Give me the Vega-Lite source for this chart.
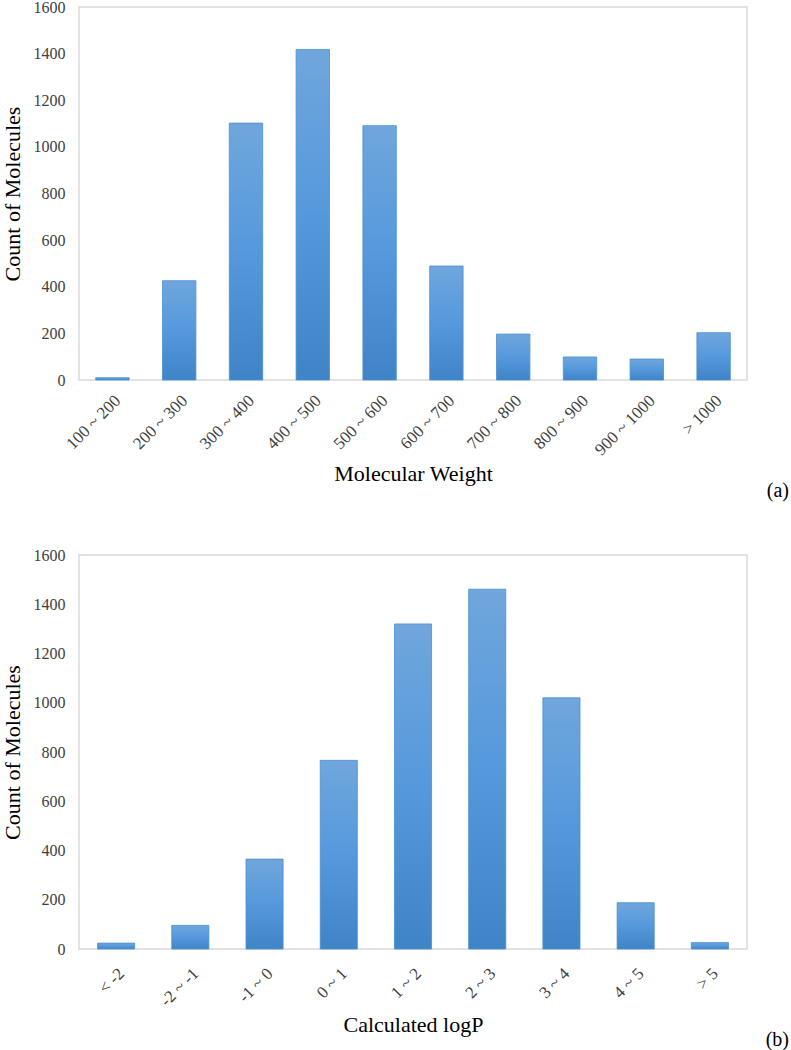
{
  "$schema": "https://vega.github.io/schema/vega-lite/v6.json",
  "padding": {"left": 0, "top": -2, "right": 0, "bottom": 0},
  "spacing": 44,
  "config": {
    "font": "Liberation Serif",
    "view": {"stroke": "#d9d9d9", "strokeWidth": 1.5},
    "axis": {"grid": false, "ticks": false, "domain": false, "labelFont": "Liberation Serif", "titleFont": "Liberation Serif", "labelColor": "#404040", "labelFontSize": 16, "titleFontSize": 22, "titleFontWeight": "normal", "titleColor": "#000000"},
    "title": {"font": "Liberation Serif", "fontSize": 20, "fontWeight": "normal", "color": "#000000"}
  },
  "datasets": {
    "mw": [
      {"range": "100 ~ 200", "count": 10},
      {"range": "200 ~ 300", "count": 426},
      {"range": "300 ~ 400", "count": 1102},
      {"range": "400 ~ 500", "count": 1418},
      {"range": "500 ~ 600", "count": 1091},
      {"range": "600 ~ 700", "count": 489},
      {"range": "700 ~ 800", "count": 197},
      {"range": "800 ~ 900", "count": 99},
      {"range": "900 ~ 1000", "count": 90},
      {"range": "> 1000", "count": 203}
    ],
    "logp": [
      {"range": "< -2", "count": 24},
      {"range": "-2 ~ -1", "count": 96},
      {"range": "-1 ~ 0", "count": 365},
      {"range": "0 ~ 1", "count": 766},
      {"range": "1 ~ 2", "count": 1320},
      {"range": "2 ~ 3", "count": 1461},
      {"range": "3 ~ 4", "count": 1020},
      {"range": "4 ~ 5", "count": 188},
      {"range": "> 5", "count": 26}
    ]
  },
  "vconcat": [
    {
      "width": 668,
      "height": 373,
      "data": {"name": "mw"},
      "title": {"text": "(a)", "orient": "bottom", "anchor": "end", "frame": "group", "dx": 42, "offset": -4},
      "mark": {
        "type": "bar",
        "stroke": "#4a8fd3",
        "strokeWidth": 0.8,
        "color": {"gradient": "linear", "x1": 0, "y1": 0, "x2": 0, "y2": 1, "stops": [{"offset": 0, "color": "#70a6dc"}, {"offset": 0.5, "color": "#5599dc"}, {"offset": 1, "color": "#3f84c6"}]}
      },
      "encoding": {
        "x": {"field": "range", "type": "nominal", "sort": null, "scale": {"paddingInner": 0.5, "paddingOuter": 0.25}, "axis": {"title": "Molecular Weight", "labelFont": "Liberation Serif", "titleFont": "Liberation Serif", "labelFontSize": 17, "labelAngle": -45, "labelPadding": 12, "titlePadding": 6}},
        "y": {"field": "count", "type": "quantitative", "scale": {"domain": [0, 1600]}, "axis": {"title": "Count of Molecules", "format": "d", "labelFont": "Liberation Serif", "titleFont": "Liberation Serif", "values": [0, 200, 400, 600, 800, 1000, 1200, 1400, 1600], "labelPadding": 14, "titlePadding": 9}}
      }
    },
    {
      "width": 668,
      "height": 394,
      "data": {"name": "logp"},
      "title": {"text": "(b)", "orient": "bottom", "anchor": "end", "frame": "group", "dx": 42, "offset": -6},
      "mark": {
        "type": "bar",
        "stroke": "#4a8fd3",
        "strokeWidth": 0.8,
        "color": {"gradient": "linear", "x1": 0, "y1": 0, "x2": 0, "y2": 1, "stops": [{"offset": 0, "color": "#70a6dc"}, {"offset": 0.5, "color": "#5599dc"}, {"offset": 1, "color": "#3f84c6"}]}
      },
      "encoding": {
        "x": {"field": "range", "type": "nominal", "sort": null, "scale": {"paddingInner": 0.5, "paddingOuter": 0.25}, "axis": {"title": "Calculated logP", "labelFont": "Liberation Serif", "titleFont": "Liberation Serif", "labelFontSize": 17, "labelAngle": -45, "labelPadding": 16, "titlePadding": 6}},
        "y": {"field": "count", "type": "quantitative", "scale": {"domain": [0, 1600]}, "axis": {"title": "Count of Molecules", "format": "d", "labelFont": "Liberation Serif", "titleFont": "Liberation Serif", "values": [0, 200, 400, 600, 800, 1000, 1200, 1400, 1600], "labelPadding": 14, "titlePadding": 9}}
      }
    }
  ]
}
